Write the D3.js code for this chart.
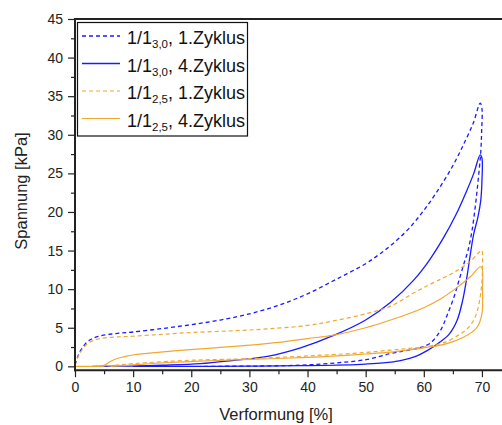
<!DOCTYPE html>
<html>
<head>
<meta charset="utf-8">
<script src="https://cdn.jsdelivr.net/npm/d3@7"></script>
<style>
  html, body { margin: 0; padding: 0; background: #fff; }
  svg { display: block; font-family: "Liberation Sans", Arial, sans-serif; }
</style>
</head>
<body>
<svg id="chart" width="502" height="425"></svg>
<script>
// Hysteresis loops: stress vs. strain, loading branch followed by unloading branch.
// Each series is a list of [Verformung %, Spannung kPa] points in drawing order.

const s30cycle1 = [
  [0,0.2],[0.5,1.3],[1,2.1],[2,3.1],[3,3.6],[4.4,3.95],[7,4.25],[10,4.45],[15,4.9],[20,5.4],
  [25,6.0],[30,6.8],[35,7.9],[40,9.4],[45,11.3],[50,13.3],[52.5,14.6],[55,16.1],[57.5,17.9],
  [60,20.2],[62.5,22.9],[65,26.0],[67,29.0],[68.5,31.5],[69.7,34.1],
  [70,33.4],[69.95,30.5],[69.8,27.8],[69.4,24.5],[68.9,21],[68.3,17.6],[67.6,15],[66.9,13.3],
  [66,11],[65.2,9.0],[64,6.6],[62.9,4.7],[61.1,3.0],[59,2.35],[56.6,2.0],[54,1.6],[50.3,0.9],
  [45,0.45],[38.8,0.15],[30,0.03],[21.6,0]
];

const s30cycle4 = [
  [3,0],[10,0.05],[15,0.15],[21.6,0.35],[27,0.75],[33.1,1.3],[38.8,2.4],[44.5,4.0],[50,6.0],
  [54.3,8.3],[58.3,11.2],[61,13.8],[63.5,16.8],[65.5,19.6],[67.3,22.6],[68.6,25.0],[69.7,27.4],
  [70,27.0],[70,24],[69.8,21.5],[69.3,19.3],[68.6,17.2],[68,14.5],[67.4,11.5],[66.7,8.6],
  [65.7,5.9],[64.3,4.1],[62.5,3.0],[60.5,2.0],[58.5,1.25],[56,0.75],[53,0.45],[50,0.3],
  [45,0.15],[38.8,0.08],[30,0.03],[20,0],[10,0]
];

const s25cycle1 = [
  [0,0.1],[0.5,1.2],[1,1.9],[2.1,2.9],[3,3.3],[4.4,3.6],[7,3.8],[10,3.9],[15,4.15],[20.4,4.4],
  [27,4.6],[33.1,4.85],[40,5.3],[44.5,5.9],[50,6.8],[54.3,7.8],[58,9.4],[61,10.6],[63.5,11.5],
  [65.7,12.4],[68,13.6],[69.7,14.9],
  [70,15.0],[70.1,13],[70,11],[69.7,9.0],[69.2,7.2],[68.6,6.0],[67.5,4.9],[66.3,4.2],[64.5,3.4],
  [62.9,2.95],[60,2.5],[57.1,2.3],[54.3,2.1],[50,1.8],[45,1.55],[38.8,1.3],[30.2,1.0],[20.4,0.8],
  [15,0.6],[10.1,0.35],[7,0.15],[4.4,0]
];

const s25cycle4 = [
  [0,0],[3,0],[4.5,0.02],[5.2,0.2],[6,0.6],[7,0.95],[8.5,1.25],[10.1,1.5],[14.7,1.85],[20.4,2.2],
  [25,2.45],[30.2,2.75],[35,3.1],[40,3.6],[44.5,4.05],[50,5.0],[54.3,6.0],[60,7.6],[63,8.8],
  [65.7,10.2],[68,11.6],[69.7,12.9],
  [70,12.8],[70.1,10],[70,6.8],[69.2,5.1],[68.2,4.4],[66.9,3.8],[65,3.2],[62.9,2.75],[60,2.4],
  [57.1,2.1],[54.3,1.85],[50,1.6],[45,1.35],[40,1.15],[30.2,0.9],[20.4,0.65],[14,0.4],[10,0.2],
  [7.5,0.05],[6.1,0]
];

const seriesNames = [
  { base: "1/1", sub: "3,0", rest: ", 1.Zyklus" },
  { base: "1/1", sub: "3,0", rest: ", 4.Zyklus" },
  { base: "1/1", sub: "2,5", rest: ", 1.Zyklus" },
  { base: "1/1", sub: "2,5", rest: ", 4.Zyklus" }
];
const seriesData = [s30cycle1, s30cycle4, s25cycle1, s25cycle4];

const xTicks = [0, 10, 20, 30, 40, 50, 60, 70];
const xMinorTicks = [5, 15, 25, 35, 45, 55, 65];
const yTicks = [0, 5, 10, 15, 20, 25, 30, 35, 40, 45];
const yMinorTicks = [2.5, 7.5, 12.5, 17.5, 22.5, 27.5, 32.5, 37.5, 42.5];

const xTitle = "Verformung [%]";
const yTitle = "Spannung [kPa]";

// ---- styling ----
const BLUE = "#1a1aff";
const ORANGE = "#f0a830";
const styles = [
  { color: BLUE, dash: "4,3", width: 1.3 },
  { color: BLUE, dash: null, width: 1.3 },
  { color: ORANGE, dash: "4,3", width: 1.2 },
  { color: ORANGE, dash: null, width: 1.2 }
];

const svg = d3.select("#chart");
const plot = { left: 75, top: 19, right: 511, bottom: 370.2 };

const x = d3.scaleLinear().domain([0, 75]).range([plot.left, plot.right]);
const y = d3.scaleLinear().domain([-0.5, 45]).range([plot.bottom, plot.top]);

// clip so curves stay inside the frame
svg.append("defs").append("clipPath").attr("id", "clip")
  .append("rect").attr("x", plot.left).attr("y", plot.top)
  .attr("width", plot.right - plot.left).attr("height", plot.bottom - plot.top);

const line = d3.line()
  .x(d => x(d[0])).y(d => y(d[1]))
  .curve(d3.curveCatmullRom.alpha(0.5));

const curves = svg.append("g").attr("clip-path", "url(#clip)");
seriesData.forEach((data, i) => {
  const st = styles[i];
  curves.append("path")
    .datum(data)
    .attr("d", line)
    .attr("fill", "none")
    .attr("stroke", st.color)
    .attr("stroke-width", st.width)
    .attr("stroke-dasharray", st.dash)
    .attr("stroke-linejoin", "round");
});

// ---- axes ----
const axisColor = "#222";
const tickFont = 14;

function styleAxis(g) {
  g.selectAll(".domain").remove();
  g.selectAll(".tick line").attr("stroke", axisColor).attr("stroke-width", 1.2);
  g.selectAll(".tick text").attr("fill", axisColor)
    .style("font-size", tickFont + "px")
    .style("font-family", "'Liberation Sans', Arial, sans-serif");
}

svg.append("g").attr("transform", `translate(0,${plot.bottom})`)
  .call(d3.axisBottom(x).tickValues(xTicks).tickSize(7).tickPadding(5).tickFormat(d3.format("d")))
  .call(styleAxis);
svg.append("g").attr("transform", `translate(0,${plot.bottom})`)
  .call(d3.axisBottom(x).tickValues(xMinorTicks).tickSize(4).tickFormat(""))
  .call(styleAxis);

svg.append("g").attr("transform", `translate(${plot.left},0)`)
  .call(d3.axisLeft(y).tickValues(yTicks).tickSize(7).tickPadding(5).tickFormat(d3.format("d")))
  .call(styleAxis);
svg.append("g").attr("transform", `translate(${plot.left},0)`)
  .call(d3.axisLeft(y).tickValues(yMinorTicks).tickSize(4).tickFormat(""))
  .call(styleAxis);

// frame lines: left, bottom, top
svg.append("line").attr("x1", plot.left).attr("x2", plot.left)
  .attr("y1", plot.top).attr("y2", plot.bottom + 1)
  .attr("stroke", axisColor).attr("stroke-width", 2);
svg.append("line").attr("x1", plot.left - 1).attr("x2", 502)
  .attr("y1", plot.bottom).attr("y2", plot.bottom)
  .attr("stroke", axisColor).attr("stroke-width", 2);
svg.append("line").attr("x1", plot.left - 1).attr("x2", 502)
  .attr("y1", plot.top).attr("y2", plot.top)
  .attr("stroke", axisColor).attr("stroke-width", 2);

// axis titles
svg.append("text")
  .attr("x", 276).attr("y", 420)
  .attr("text-anchor", "middle")
  .attr("fill", axisColor)
  .style("font-size", "16.5px")
  .text(xTitle);

svg.append("text")
  .attr("transform", "translate(27,191) rotate(-90)")
  .attr("text-anchor", "middle")
  .attr("fill", axisColor)
  .style("font-size", "16.5px")
  .text(yTitle);

// ---- legend ----
const legend = svg.append("g");
legend.append("rect")
  .attr("x", 77.5).attr("y", 22.5).attr("width", 170).attr("height", 113.5)
  .attr("fill", "#fff").attr("stroke", "#111").attr("stroke-width", 1.2);

const rowY0 = 36, rowStep = 27.5;
seriesNames.forEach((s, i) => {
  const yy = rowY0 + i * rowStep;
  const st = styles[i];
  legend.append("line")
    .attr("x1", 82).attr("x2", 120).attr("y1", yy).attr("y2", yy)
    .attr("stroke", st.color).attr("stroke-width", st.width)
    .attr("stroke-dasharray", st.dash);
  const t = legend.append("text")
    .attr("x", 127).attr("y", yy + 8)
    .attr("fill", "#111")
    .style("font-size", "18px");
  t.append("tspan").text(s.base);
  t.append("tspan").attr("dy", 4).style("font-size", "11.5px").text(s.sub);
  t.append("tspan").attr("dy", -4).text(s.rest);
});
</script>
</body>
</html>
